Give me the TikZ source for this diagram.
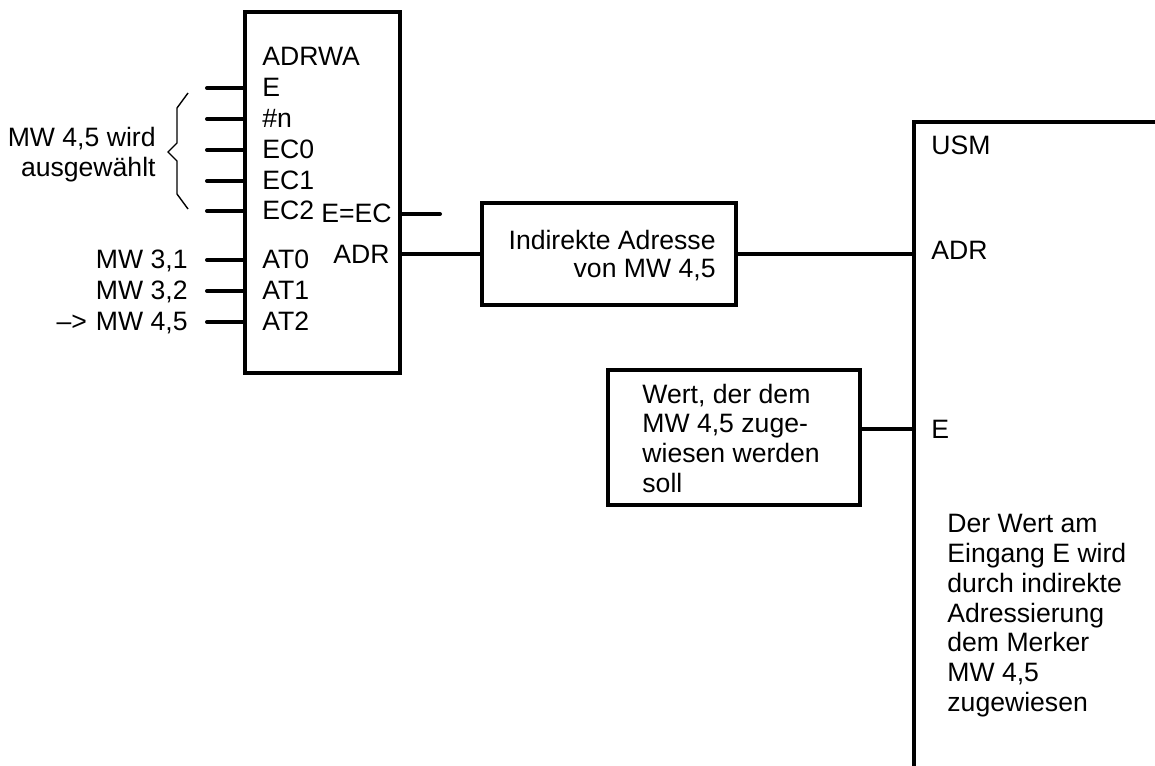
\documentclass[tikz,border=0pt]{standalone}
\usepackage{fontspec}
\setmainfont{Liberation Sans}
\usetikzlibrary{positioning}

\begin{document}
\begin{tikzpicture}[x=0.5pt,y=-0.5pt,
  blk/.style={draw=black,line width=2pt,inner sep=0pt},
  wire/.style={line width=2pt,line cap=round},
  lbl/.style={inner sep=0pt,font=\fontsize{13.3}{14.9}\selectfont}
  ]
  \useasboundingbox (0,0) rectangle (1155,765);

  % Baustein ADRWA
  \node[blk,minimum width=77.5pt,minimum height=180.5pt] (adrwa) at (322.5,192.5) {};
  \node[lbl,anchor=base west] (adrwaname) at (262,66) {ADRWA};
  \foreach \t/\y [count=\i] in {E/88,\#n/119,EC0/150,EC1/181,EC2/211,AT0/260,AT1/291,AT2/322}{
    \node[lbl,anchor=base west] (in\i) at (262,{\y+8.5}) {\t};
    \coordinate (p\i) at (207,\y);
    \draw[wire] (p\i) -- (adrwa.west |- p\i);
  }
  \node[lbl,anchor=base east] (eec) at (392,222) {E=EC};
  \node[lbl,anchor=base east] (adrout) at (390,263.5) {ADR};
  \coordinate (eecend) at (440,214);
  \draw[wire] (adrwa.east |- eecend) -- (eecend);

  % Beschaltung links
  \draw[line width=0.7pt] (188,93) -- (177,108) -- (177,143) -- (168,152)
    -- (177,161) -- (177,194) -- (188,209);
  \node[lbl,align=right,anchor=east] (sel) at (156,155) {MW 4,5 wird\\ausgewählt};
  \node[lbl,anchor=base east] (mw31) at (188,268.5) {MW 3,1};
  \node[lbl,anchor=base east] (mw32) at (188,299.5) {MW 3,2};
  \node[lbl,anchor=base east] (mw45) at (188,330.5) {\textendash>\hspace{4.5pt}MW 4,5};

  % indirekte Adresse
  \node[blk,minimum width=127pt,minimum height=51pt] (adrind) at (609,254) {};
  \node[lbl,align=right,anchor=east,font=\fontsize{13.3}{14}\selectfont] (adrtxt) at (716,256) {Indirekte Adresse\\von MW 4,5};
  \draw[wire] (adrwa.east |- adrind) -- (adrind.west);

  % Baustein USM
  \coordinate (usmtop) at (914,122);
  \coordinate (usmright) at (1160,122);
  \coordinate (usmbot) at (914,770);
  \draw[line width=2pt] (usmright) -| (usmbot);
  \node[lbl,anchor=base west] (usmname) at (931,154) {USM};
  \node[lbl,anchor=base west] (usmadr) at (931,259) {ADR};
  \node[lbl,anchor=base west] (usme) at (931,438) {E};
  \draw[wire] (adrind.east) -- (usmtop |- adrind.east);
  \node[lbl,align=left,anchor=north west] (usmtxt) at (947,514) {Der Wert am\\Eingang E wird\\durch indirekte\\Adressierung\\dem Merker\\MW 4,5\\zugewiesen};

  % zuzuweisender Wert
  \node[blk,minimum width=126pt,minimum height=67.5pt] (wert) at (734,437.5) {};
  \node[lbl,align=left,anchor=north west] (werttxt) at (642,383.5) {Wert, der dem\\MW 4,5 zuge-\\wiesen werden\\soll};
  \coordinate (ein) at (914,429);
  \draw[wire] (wert.east |- ein) -- (ein);
\end{tikzpicture}
\end{document}
